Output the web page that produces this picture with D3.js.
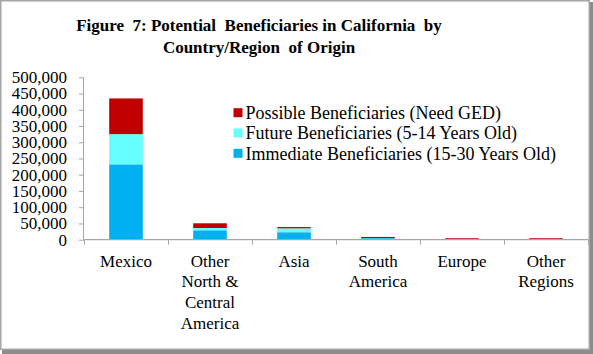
<!DOCTYPE html>
<html>
<head>
<meta charset="utf-8">
<script src="https://cdn.jsdelivr.net/npm/d3@7/dist/d3.min.js"></script>
<style>
html,body{margin:0;padding:0;background:#fff;}
svg{display:block;}
text{font-family:"Liberation Serif","Times New Roman",serif;fill:#000;}
</style>
</head>
<body>
<svg id="chart" width="593" height="354"></svg>
<script>
const categories = ["Mexico", "Other\nNorth &\nCentral\nAmerica", "Asia", "South\nAmerica", "Europe", "Other\nRegions"];
const immediate = [232000, 29000, 23000, 4500, 1000, 1000];
const future    = [93000, 7000, 12000, 500, 500, 500];
const possible  = [110000, 14500, 4000, 3500, 3000, 3000];
const seriesNames = ["Immediate Beneficiaries (15-30 Years Old)", "Future Beneficiaries (5-14 Years Old)", "Possible Beneficiaries (Need GED)"];
const seriesColors = ["#00B0F0", "#66FFFF", "#C00000"];
const yTicks = [0, 50000, 100000, 150000, 200000, 250000, 300000, 350000, 400000, 450000, 500000];
const titleLines = ["Figure  7: Potential  Beneficiaries in California  by", "Country/Region  of Origin"];

const svg = d3.select("#chart");
const W = 593, H = 354;

// frame
svg.append("rect").attr("x",0).attr("y",0).attr("width",W).attr("height",H).attr("fill","#fff");
svg.append("rect").attr("x",589).attr("y",2).attr("width",4).attr("height",H-2).attr("fill","#8c8c8c");
svg.append("rect").attr("x",2).attr("y",350).attr("width",W-2).attr("height",4).attr("fill","#8c8c8c");
svg.append("rect").attr("x",0.75).attr("y",0.75).attr("width",588.5).attr("height",348.5).attr("fill","none").attr("stroke","#a6a6a6").attr("stroke-width",1.5);

const x = d3.scaleBand().domain(categories).range([84, 588]).paddingInner(0.6).paddingOuter(0.3);
const xb = d3.scaleBand().domain(categories).range([84, 588]);
const y = d3.scaleLinear().domain([0, 500000]).range([239.7, 77.3]);

// title
const title = svg.append("text").attr("text-anchor","middle").attr("font-weight","bold").attr("font-size","17px").style("white-space","pre");
titleLines.forEach((t,i)=>{
  title.append("tspan").attr("x",259).attr("y",31 + i*21.5).text(t);
});

// stacked data
const rows = categories.map((c,i)=>({cat:c, immediate:immediate[i], future:future[i], possible:possible[i]}));
const stack = d3.stack().keys(["immediate","future","possible"])(rows);

svg.append("g").selectAll("g").data(stack).join("g")
  .attr("fill",(d,i)=>seriesColors[i])
  .selectAll("rect").data(d=>d).join("rect")
  .attr("x",d=>x(d.data.cat))
  .attr("width",x.bandwidth())
  .attr("y",d=>y(d[1]))
  .attr("height",d=>y(d[0])-y(d[1]));

// y axis
const yAxis = d3.axisLeft(y).tickValues(yTicks).tickFormat(d3.format(",")).tickSize(5).tickPadding(12);
const gy = svg.append("g").attr("transform","translate(84,0)").call(yAxis);
gy.select(".domain").attr("stroke","#a6a6a6").attr("d","M-0.5,"+y(500000)+"V"+y(0));
gy.selectAll(".tick line").attr("stroke","#a6a6a6");
gy.selectAll(".tick text").attr("font-size","17px").attr("fill","#000").attr("font-family","Liberation Serif");

// x axis
const gx = svg.append("g");
gx.append("line").attr("x1",84).attr("x2",588.5).attr("y1",y(0)).attr("y2",y(0)).attr("stroke","#a6a6a6").attr("stroke-width",1.2);
const tickPos = categories.map(c=>xb(c)).concat([xb(categories[categories.length-1])+xb.bandwidth()]);
gx.selectAll(".xt").data(tickPos).join("line").attr("class","xt")
  .attr("x1",d=>Math.round(d)+0.5).attr("x2",d=>Math.round(d)+0.5)
  .attr("y1",y(0)).attr("y2",y(0)+5).attr("stroke","#a6a6a6");
gx.selectAll(".xl").data(categories).join("text").attr("class","xl")
  .attr("text-anchor","middle").attr("font-size","17px")
  .each(function(c){
    const t = d3.select(this);
    c.split("\n").forEach((line,i)=>{
      t.append("tspan").attr("x",xb(c)+xb.bandwidth()/2).attr("y",266.7+i*20.7).text(line);
    });
  });

// legend
const legendOrder = [2,1,0];
const lg = svg.append("g");
legendOrder.forEach((si,r)=>{
  const cy = 112.7 + r*20.3;
  lg.append("rect").attr("x",233.5).attr("y",cy-4.5).attr("width",9).attr("height",9).attr("fill",seriesColors[si]);
  lg.append("text").attr("x",245.5).attr("y",cy).attr("dy","0.35em").attr("font-size","18px").text(seriesNames[si]);
});
</script>
</body>
</html>
